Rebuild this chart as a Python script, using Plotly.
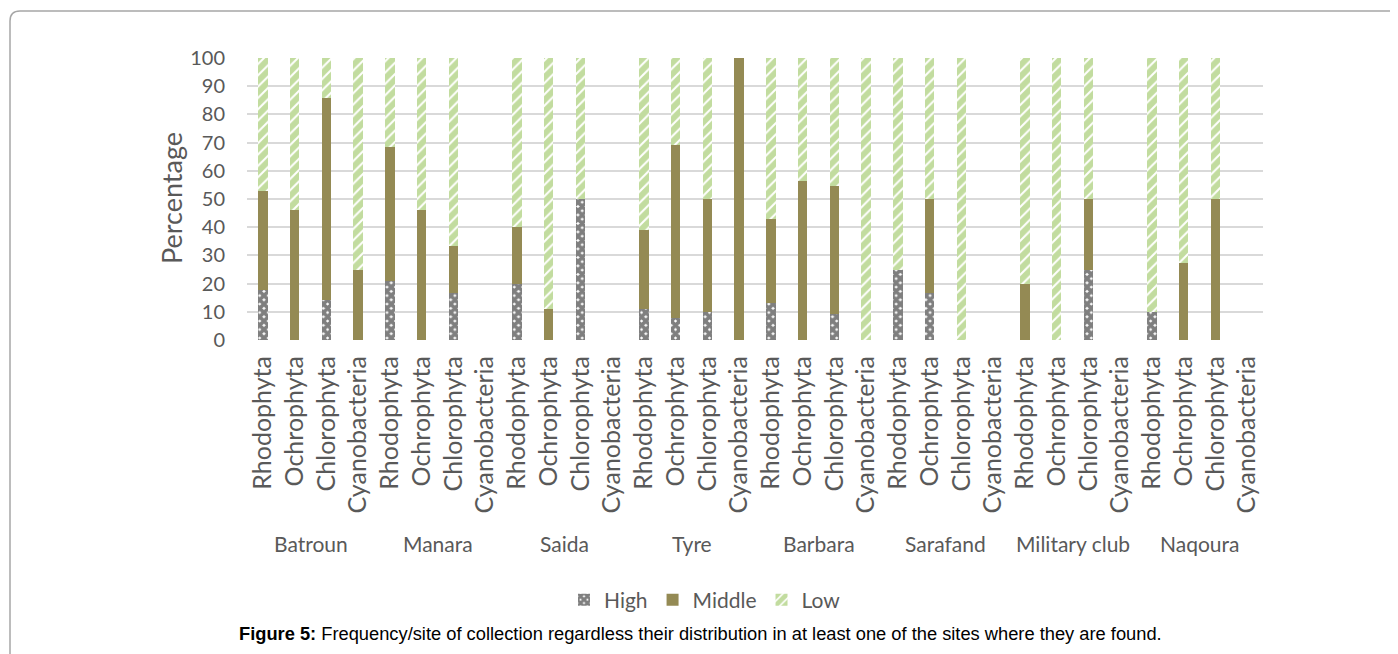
import plotly.graph_objects as go

sites = ["Batroun", "Manara", "Saida", "Tyre", "Barbara", "Sarafand", "Military club", "Naqoura"]
phyla = ["Rhodophyta", "Ochrophyta", "Chlorophyta", "Cyanobacteria"]

# values per site, in phyla order
high = [17.6, 0, 14.3, 0,
        21.1, 0, 16.7, 0,
        20, 0, 50, 0,
        11.1, 7.7, 10, 0,
        13, 0, 9.1, 0,
        25, 16.7, 0, 0,
        0, 0, 25, 0,
        10, 0, 0, 0]
middle = [35.3, 46.2, 71.4, 25,
          47.4, 46.2, 16.7, 0,
          20, 11.1, 0, 0,
          27.8, 61.5, 40, 100,
          30, 56.3, 45.5, 0,
          0, 33.3, 0, 0,
          20, 0, 25, 0,
          0, 27.3, 50, 0]
low = [47.1, 53.8, 14.3, 75,
       31.5, 53.8, 66.6, 0,
       60, 88.9, 50, 0,
       61.1, 30.8, 50, 0,
       57, 43.7, 45.4, 100,
       75, 50, 100, 0,
       80, 100, 50, 0,
       90, 72.7, 50, 0]

y_ticks = list(range(0, 101, 10))

n = len(sites) * len(phyla)
xpos = list(range(n))
xlabels = phyla * len(sites)

OFF = 8  # page body margin
W, H = 1398 - OFF, 654 - OFF
L, R, T, B = 247 - OFF, 1263 - OFF, 58 - OFF, 340 - OFF  # plot area in pixels


def px(x):
    return (x - OFF - L) / (R - L)


def py(y):
    return (B - (y - OFF)) / (B - T)


FONT = "Lato"
GRAY = "#595959"
BW = 0.3

fig = go.Figure()
fig.add_trace(go.Bar(
    name="High", x=xpos, y=high, width=BW,
    marker=dict(color="white", line=dict(width=0),
                pattern=dict(shape="x", fgcolor="#000000", bgcolor="white",
                             size=6, solidity=0.85)),
))
fig.add_trace(go.Bar(
    name="Middle", x=xpos, y=middle, width=BW,
    marker=dict(color="#948A54", line=dict(width=0)),
))
fig.add_trace(go.Bar(
    name="Low", x=xpos, y=low, width=BW,
    marker=dict(color="white", line=dict(width=0),
                pattern=dict(shape="/", fgcolor="#86BA40", bgcolor="white",
                             size=8, solidity=0.75)),
))

annotations = []
for i, s in enumerate(sites):
    cx = sum(xpos[i * 4:(i + 1) * 4]) / 4
    annotations.append(dict(x=cx, xref="x", y=py(543), yref="paper",
                            text=s, showarrow=False,
                            font=dict(family=FONT, size=21, color=GRAY),
                            xanchor="center", yanchor="middle"))

annotations.append(dict(x=px(171), xref="paper", y=py(198), yref="paper",
                        text="Percentage", textangle=-90, showarrow=False,
                        font=dict(family=FONT, size=27, color=GRAY),
                        xanchor="center", yanchor="middle"))

annotations.append(dict(x=px(700), xref="paper", y=py(633), yref="paper",
                        text="<b>Figure 5:</b> Frequency/site of collection regardless their distribution in at least one of the sites where they are found.",
                        showarrow=False,
                        font=dict(family="Liberation Sans, Arial", size=18.3, color="black"),
                        xanchor="center", yanchor="middle"))

# frame
x0, y0, x1, y1, r = 10, 11, 1398 + 5, 654 + 5, 10
path = (f"M {px(x0)},{py(y1)} L {px(x0)},{py(y0 + r)} "
        f"Q {px(x0)},{py(y0)} {px(x0 + r)},{py(y0)} L {px(x1)},{py(y0)}")

fig.update_layout(
    width=W, height=H,
    margin=dict(l=L, r=W - R, t=T, b=H - B),
    barmode="stack",
    plot_bgcolor="white", paper_bgcolor="white",
    showlegend=True,
    legend=dict(orientation="h", x=px(705), xanchor="center", y=py(600), yanchor="middle",
                font=dict(family=FONT, size=21, color=GRAY), itemwidth=30,
                traceorder="normal"),
    xaxis=dict(tickvals=xpos, ticktext=xlabels, tickangle=-90,
               range=[-0.5, n - 0.5], showgrid=False, zeroline=False,
               showline=False, ticks="", ticklabelstandoff=10,
               tickfont=dict(family=FONT, size=25, color=GRAY)),
    yaxis=dict(range=[0, 100], tickvals=y_ticks, showgrid=True,
               gridcolor="#D9D9D9", gridwidth=1.5, zeroline=False,
               showline=False, ticks="", ticklabelstandoff=21,
               tickfont=dict(family=FONT, size=20, color=GRAY)),
    annotations=annotations,
    shapes=[dict(type="path", path=path, xref="paper", yref="paper",
                 line=dict(color="#A6A6A6", width=1.5))],
    bargap=0,
)

fig.write_html("out.html")
